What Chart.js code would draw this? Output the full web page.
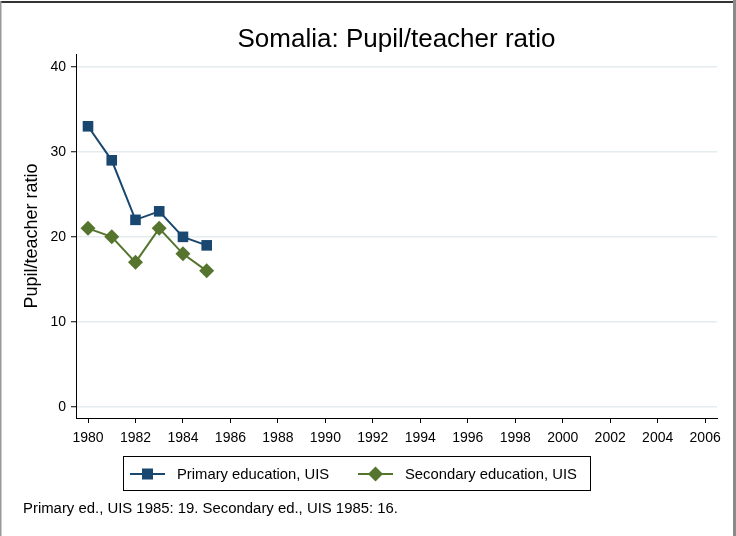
<!DOCTYPE html>
<html>
<head>
<meta charset="utf-8">
<script src="https://cdn.jsdelivr.net/npm/chart.js@4"></script>
<style>
html,body{margin:0;padding:0;background:#fff;}
#wrap{width:736px;height:536px;position:relative;}
</style>
</head>
<body>
<div id="wrap"><canvas id="c" width="736" height="536"></canvas></div>
<script>
const titleText = "Somalia: Pupil/teacher ratio";
const yTitle = "Pupil/teacher ratio";
const noteText = "Primary ed., UIS 1985: 19. Secondary ed., UIS 1985: 16.";
const years = [1980, 1981, 1982, 1983, 1984, 1985];
const primary = [33, 29, 22, 23, 20, 19];
const secondary = [21, 20, 17, 21, 18, 16];
const seriesNames = ["Primary education, UIS", "Secondary education, UIS"];
const xTicks = [1980,1982,1984,1986,1988,1990,1992,1994,1996,1998,2000,2002,2004,2006];
const yTicks = [0, 10, 20, 30, 40];

const FONT = "'Liberation Sans', Arial, sans-serif";
const C1 = "#1a476f", C2 = "#55752f";

const decor = {
  id: 'decor',
  afterDraw(chart) {
    const ctx = chart.ctx;
    ctx.save();
    // frame
    ctx.fillStyle = '#333';
    ctx.fillRect(0, 1, 734, 2);
    ctx.fillStyle = '#999';
    ctx.fillRect(0, 1, 1.5, 535);
    ctx.fillStyle = '#8a8a8a';
    ctx.fillRect(733, 0, 3, 536);
    // title
    const ca = chart.chartArea;
    ctx.fillStyle = '#000';
    ctx.font = "26px " + FONT;
    ctx.textAlign = 'center';
    ctx.textBaseline = 'middle';
    ctx.fillText(titleText, (ca.left + ca.right) / 2, 40);
    // legend box
    ctx.strokeStyle = '#000';
    ctx.lineWidth = 1;
    ctx.strokeRect(123.5, 456.5, 467, 34);
    const ds = chart.data.datasets;
    const items = [{x0:130, tx:177}, {x0:358, tx:405}];
    ctx.font = "14.8px " + FONT;
    ctx.textAlign = 'left';
    items.forEach((it, i) => {
      const d = ds[i];
      const cy = 474;
      ctx.strokeStyle = d.borderColor;
      ctx.lineWidth = 2;
      ctx.beginPath(); ctx.moveTo(it.x0, cy); ctx.lineTo(it.x0 + 35, cy); ctx.stroke();
      ctx.fillStyle = d.backgroundColor;
      const mx = it.x0 + 17.5;
      if (d.pointStyle === 'rect') {
        ctx.fillRect(mx - 5.5, cy - 5.5, 11, 11);
      } else {
        ctx.beginPath();
        ctx.moveTo(mx, cy - 7.5); ctx.lineTo(mx + 7.5, cy); ctx.lineTo(mx, cy + 7.5); ctx.lineTo(mx - 7.5, cy);
        ctx.closePath(); ctx.fill();
      }
      ctx.fillStyle = '#000';
      ctx.fillText(d.label, it.tx, cy + 1);
    });
    // note
    ctx.font = "14.9px " + FONT;
    ctx.fillText(noteText, 23, 509);
    ctx.restore();
  }
};

new Chart(document.getElementById('c'), {
  type: 'line',
  data: {
    datasets: [
      { label: seriesNames[0], data: years.map((y, i) => ({x: y, y: primary[i]})),
        borderColor: C1, backgroundColor: C1, borderWidth: 2, pointStyle: 'rect',
        pointRadius: 7.5, pointHoverRadius: 7.5, pointBorderWidth: 0, tension: 0 },
      { label: seriesNames[1], data: years.map((y, i) => ({x: y, y: secondary[i]})),
        borderColor: C2, backgroundColor: C2, borderWidth: 2, pointStyle: 'rectRot',
        pointRadius: 7.5, pointHoverRadius: 7.5, pointBorderWidth: 0, tension: 0 }
    ]
  },
  options: {
    responsive: false,
    animation: false,
    events: [],
    layout: { padding: { top: 54, right: 19, left: 0, bottom: 0 } },
    plugins: { legend: { display: false }, title: { display: false }, tooltip: { enabled: false } },
    scales: {
      x: {
        type: 'linear', min: 1979.494, max: 2006.5,
        afterBuildTicks: s => { s.ticks = xTicks.map(v => ({value: v})); },
        afterFit: s => { s.height = 118; },
        ticks: { autoSkip: false, maxRotation: 0, padding: 7, color: '#000',
                 font: { family: FONT, size: 14 }, callback: v => String(v) },
        grid: { display: true, drawOnChartArea: false, tickLength: 5, tickColor: '#000', tickWidth: 1 },
        border: { display: true, color: '#000', width: 1 }
      },
      y: {
        type: 'linear', min: -1.3, max: 41.5,
        afterBuildTicks: s => { s.ticks = yTicks.map(v => ({value: v})); },
        afterFit: s => { s.width = 76; },
        ticks: { autoSkip: false, padding: 5, color: '#000',
                 font: { family: FONT, size: 14 }, callback: v => String(v) },
        grid: { display: true, color: '#e3ecef', lineWidth: 1.5, tickLength: 5, tickColor: '#000', tickWidth: 1 },
        border: { display: true, color: '#000', width: 1 },
        title: { display: true, text: yTitle, color: '#000', font: { family: FONT, size: 18 }, padding: { top: 21, bottom: 0 } }
      }
    }
  },
  plugins: [decor]
});
</script>
</body>
</html>
